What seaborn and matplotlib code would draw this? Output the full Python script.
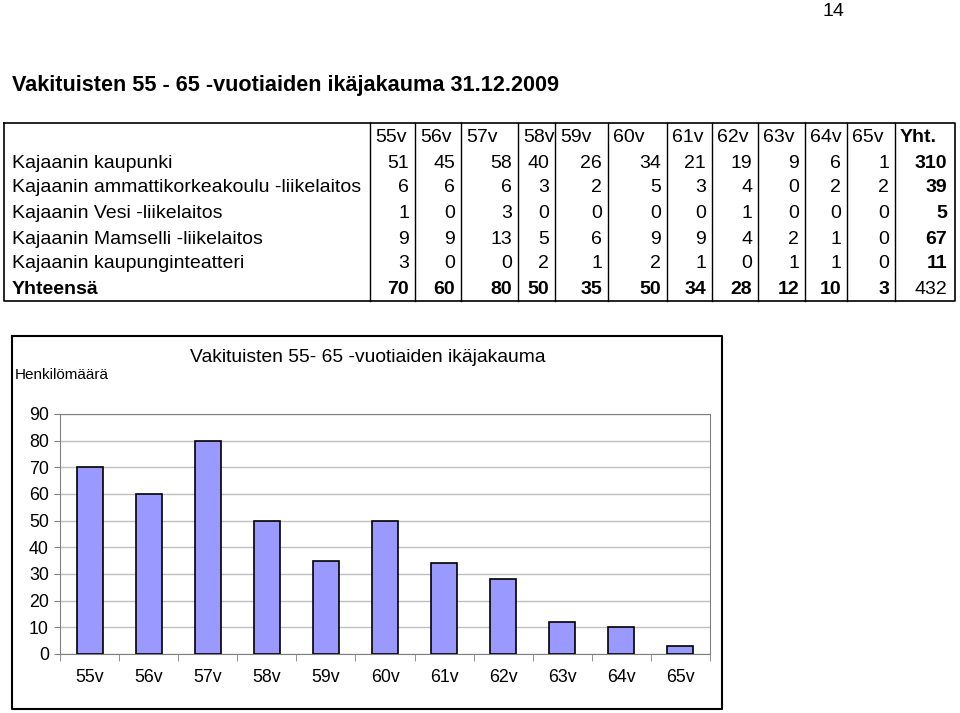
import matplotlib
matplotlib.use("Agg")
import matplotlib.pyplot as plt
import seaborn as sns
import pandas as pd

# --- data ---
ages = ['55v', '56v', '57v', '58v', '59v', '60v', '61v', '62v', '63v', '64v', '65v']
units = ['Kajaanin kaupunki',
         'Kajaanin ammattikorkeakoulu -liikelaitos',
         'Kajaanin Vesi -liikelaitos',
         'Kajaanin Mamselli -liikelaitos',
         'Kajaanin kaupunginteatteri']
kaupunki = [51, 45, 58, 40, 26, 34, 21, 19, 9, 6, 1]
amk = [6, 6, 6, 3, 2, 5, 3, 4, 0, 2, 2]
vesi = [1, 0, 3, 0, 0, 0, 0, 1, 0, 0, 0]
mamselli = [9, 9, 13, 5, 6, 9, 9, 4, 2, 1, 0]
teatteri = [3, 0, 0, 2, 1, 2, 1, 0, 1, 1, 0]
row_totals = [310, 39, 5, 67, 11]
totals = [70, 60, 80, 50, 35, 50, 34, 28, 12, 10, 3]
grand_total = 432

page_title = 'Vakituisten 55 - 65 -vuotiaiden ikäjakauma 31.12.2009'
chart_title = 'Vakituisten 55- 65 -vuotiaiden ikäjakauma'
ylabel = 'Henkilömäärä'

plt.rcParams['font.family'] = ['Liberation Sans', 'DejaVu Sans']

W, H = 960, 713
fig = plt.figure(figsize=(W / 100, H / 100), dpi=100)

# overlay in pixel coordinates for the page text and the table
page = fig.add_axes([0, 0, 1, 1])
page.set_xlim(0, W)
page.set_ylim(H, 0)
page.axis('off')

page.text(823, 12, '14', fontsize=14, va='center', ha='left')
page.text(12, 85, page_title, fontsize=15.6, fontweight='bold', va='center', ha='left')

# table
col_edges = [4, 370, 415, 461, 518, 555, 608, 667, 712, 758, 805, 847, 895, 955]
top, bottom = 123, 301
header_y = 137
row_ys = [163, 188, 214, 239, 264, 290]
tfs = 14

page.plot([col_edges[0], col_edges[-1], col_edges[-1], col_edges[0], col_edges[0]],
          [top, top, bottom, bottom, top], color='black', lw=1.2)
for x in col_edges[1:-1]:
    page.plot([x, x], [top, bottom], color='black', lw=1.0)

for i, a in enumerate(ages + ['Yht.']):
    page.text(col_edges[i + 1] + 5, header_y, a, fontsize=tfs, va='center', ha='left',
              fontweight='bold' if a == 'Yht.' else 'normal')

rows = [kaupunki, amk, vesi, mamselli, teatteri]
for r, (name, vals, tot) in enumerate(zip(units, rows, row_totals)):
    y = row_ys[r]
    page.text(12, y, name, fontsize=tfs, va='center', ha='left')
    for j, v in enumerate(vals):
        page.text(col_edges[j + 2] - 6, y, str(v), fontsize=tfs, va='center', ha='right')
    page.text(col_edges[-1] - 8, y, str(tot), fontsize=tfs, va='center', ha='right',
              fontweight='bold')

y = row_ys[-1]
page.text(12, y, 'Yhteensä', fontsize=tfs, va='center', ha='left', fontweight='bold')
for j, v in enumerate(totals):
    page.text(col_edges[j + 2] - 6, y, str(v), fontsize=tfs, va='center', ha='right',
              fontweight='bold')
page.text(col_edges[-1] - 8, y, str(grand_total), fontsize=tfs, va='center', ha='right')

# chart frame
page.plot([12, 722, 722, 12, 12], [336, 336, 709, 709, 336], color='black', lw=1.5)
page.text(368, 358, chart_title, fontsize=13.9, va='center', ha='center')
page.text(15, 375, ylabel, fontsize=11, va='center', ha='left')

# bar chart
ax = fig.add_axes([60 / W, 1 - 654 / H, 650 / W, 240 / H])
df = pd.DataFrame({'ika': ages, 'maara': totals})
sns.barplot(data=df, x='ika', y='maara', color='#9999ff', edgecolor='black',
            linewidth=1.2, width=0.44, saturation=1, ax=ax, zorder=3)
ax.set_xlim(-0.5, len(ages) - 0.5)
ax.set_ylim(0, 90)
ax.set_yticks(range(0, 91, 10))
ax.grid(axis='y', color='#c0c0c0', lw=1.0, zorder=0)
ax.set_axisbelow(True)
for s in ax.spines.values():
    s.set_color('#808080')
ax.set_xlabel('')
ax.set_ylabel('')
ax.tick_params(axis='x', length=0, pad=11, labelsize=12.8)
ax.set_xticks([i - 0.5 for i in range(len(ages) + 1)], minor=True)
ax.tick_params(axis='x', which='minor', length=5, color='#808080')
ax.tick_params(axis='y', length=4, color='#808080', pad=4, labelsize=12.8)

fig.savefig('out.png', dpi=100)
